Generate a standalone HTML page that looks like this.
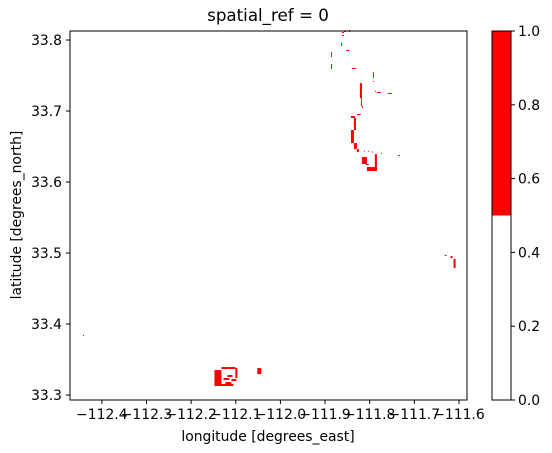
<!DOCTYPE html>
<html><head><meta charset="utf-8"><style>
body{margin:0;background:#fff}
svg{font-family:"DejaVu Sans","Liberation Sans",sans-serif;display:block}
</style></head><body>
<svg id="c" width="552" height="453" viewBox="0 0 552 453">
<text x="268" y="21" font-size="16.7" text-anchor="middle">spatial_ref = 0</text>
<g id="marks"></g>
<rect x="70" y="31" width="397" height="369" fill="none" stroke="#000" stroke-width="1"/>
<g id="xt"></g>
<g id="yt"></g>
<text x="268" y="441" font-size="13.9" text-anchor="middle">longitude [degrees_east]</text>
<text x="21" y="215" font-size="13.9" text-anchor="middle" transform="rotate(-90 21 215)">latitude [degrees_north]</text>
<rect x="492" y="31" width="19" height="184.5" fill="#ff0000"/>
<rect x="492" y="215.5" width="19" height="184.5" fill="#fff"/>
<rect x="492" y="31" width="19" height="369" fill="none" stroke="#000"/>
<g id="ct"></g>
</svg>
<script>
const xTicks=[-112.4,-112.3,-112.2,-112.1,-112.0,-111.9,-111.8,-111.7,-111.6];
const yTicks=[33.3,33.4,33.5,33.6,33.7,33.8];
const cTicks=[0.0,0.2,0.4,0.6,0.8,1.0];
const cellLon=[-111.8620,-111.8575,-111.8464,-111.8620,-111.8643,-111.8530,-111.8866,-111.8866,-111.8397,-111.7929,-111.7929,-111.7884,-111.7839,-111.7594,-111.8219,-111.8196,-111.8174,-111.8286,-111.8420,-111.8353,-111.8420,-111.8353,-111.8286,-111.8174,-111.8085,-111.8062,-111.7884,-111.8130,-111.7750,-111.7370,-111.6321,-111.6188,-111.6121,-112.4424,-112.1478,-112.1321,-112.1009,-112.1321,-112.1232,-112.1098,-112.1276,-112.1187,-112.0518,-111.8040,-111.7950];
const cellLat=[33.8113,33.8127,33.8141,33.8070,33.7958,33.7859,33.7831,33.7662,33.7606,33.7549,33.7423,33.7282,33.7268,33.7254,33.7394,33.7183,33.7070,33.6958,33.6930,33.6901,33.6732,33.6549,33.6465,33.6352,33.6254,33.6211,33.6394,33.6440,33.6410,33.6380,33.4972,33.4958,33.4915,33.3845,33.3352,33.3394,33.3380,33.3155,33.3183,33.3225,33.3239,33.3282,33.3380,33.6440,33.6430];
const cellDLon=[0.0045,0.0045,0.0022,0.0045,0.0022,0.0067,0.0022,0.0022,0.0089,0.0022,0.0022,0.0022,0.0089,0.0089,0.0045,0.0022,0.0022,0.0089,0.0089,0.0045,0.0067,0.0067,0.0045,0.0112,0.0067,0.0223,0.0045,0.0022,0.0022,0.0045,0.0045,0.0045,0.0045,0.0022,0.0156,0.0313,0.0045,0.0268,0.0134,0.0112,0.0134,0.0112,0.0089,0.0022,0.0022];
const cellDLat=[0.0014,0.0014,0.0028,0.0014,0.0042,0.0014,0.0070,0.0070,0.0014,0.0085,0.0014,0.0014,0.0014,0.0014,0.0211,0.0113,0.0028,0.0014,0.0028,0.0169,0.0183,0.0085,0.0042,0.0099,0.0014,0.0056,0.0225,0.0014,0.0014,0.0014,0.0014,0.0028,0.0127,0.0014,0.0225,0.0028,0.0141,0.0028,0.0028,0.0028,0.0028,0.0028,0.0085,0.0014,0.0014];
const X=v=>70+(v-(-112.4714))/((-111.582)-(-112.4714))*397;
const Y=v=>31+(33.8127-v)/(33.8127-33.293)*369;
const C=v=>400-v*369;
const ns="http://www.w3.org/2000/svg";
function mk(t,a,p){const e=document.createElementNS(ns,t);for(const k in a)e.setAttribute(k,a[k]);p.appendChild(e);return e;}
const g=document.getElementById('marks');
for(let i=0;i<cellLon.length;i++){
 const x0=X(cellLon[i]),x1=X(cellLon[i]+cellDLon[i]),y0=Y(cellLat[i]),y1=Y(cellLat[i]-cellDLat[i]);
 const r=mk('rect',{x:x0,y:y0,width:Math.max(1,x1-x0),height:Math.max(1,y1-y0),fill:'#ff0000'},g);
 
 
}
const xt=document.getElementById('xt');
xTicks.forEach(v=>{const x=X(v);
 const l=mk('line',{x1:x,x2:x,y1:400,y2:404,stroke:'#000'},xt);
 
 
 const t=mk('text',{x:x,y:419,'font-size':13.9,'text-anchor':'middle'},xt);t.textContent='\u2212'+Math.abs(v).toFixed(1);
 
 });
const yt=document.getElementById('yt');
yTicks.forEach(v=>{const y=Y(v);
 const l=mk('line',{x1:66,x2:70,y1:y,y2:y,stroke:'#000'},yt);
 
 
 const t=mk('text',{x:62,y:y+5,'font-size':13.9,'text-anchor':'end'},yt);t.textContent=v.toFixed(1);
 
 });
const ct=document.getElementById('ct');
cTicks.forEach(v=>{const y=C(v);
 const l=mk('line',{x1:511,x2:515,y1:y,y2:y,stroke:'#000'},ct);
 
 
 const t=mk('text',{x:518,y:y+5,'font-size':13.9},ct);t.textContent=v.toFixed(1);
 
 });
</script>
</body></html>
